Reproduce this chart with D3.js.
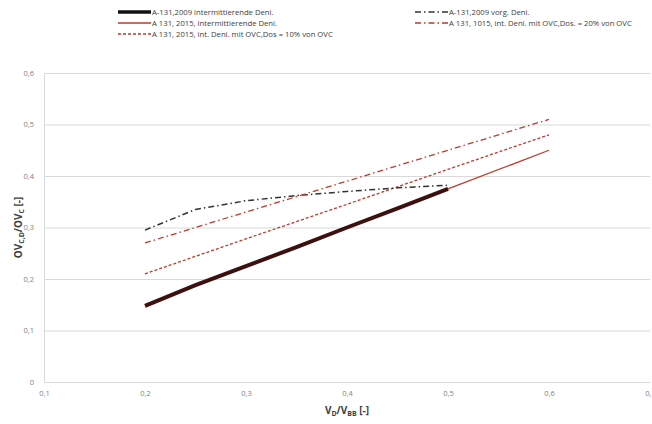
<!DOCTYPE html>
<html>
<head>
<meta charset="utf-8">
<script src="https://cdn.jsdelivr.net/npm/d3@7"></script>
<style>
  body { margin: 0; background: #fff; }
  text { font-family: "Open Sans", sans-serif; }
</style>
</head>
<body>
<svg id="chart" width="652" height="424"></svg>
<script>
// Daten
const xTicks = [0.1, 0.2, 0.3, 0.4, 0.5, 0.6, 0.7]
const yTicks = [0, 0.1, 0.2, 0.3, 0.4, 0.5, 0.6]

const xs2009 = [0.2, 0.25, 0.3, 0.35, 0.4, 0.45, 0.5]
const int2009 = [0.148, 0.188, 0.225, 0.262, 0.300, 0.337, 0.375]
const vorg2009 = [0.295, 0.335, 0.352, 0.362, 0.370, 0.377, 0.382]

const xs2015 = [0.2, 0.3, 0.4, 0.5, 0.6]
const int2015 = [0.15, 0.225, 0.30, 0.375, 0.45]
const ovc10 = [0.21, 0.278, 0.345, 0.413, 0.48]
const ovc20 = [0.27, 0.33, 0.39, 0.45, 0.51]

const svg = d3.select("#chart")

const margin = { top: 73, right: 2, bottom: 42, left: 44 }
const width = 652 - margin.left - margin.right
const height = 424 - margin.top - margin.bottom

const x = d3.scaleLinear().domain([0.1, 0.7]).range([margin.left, margin.left + width])
const y = d3.scaleLinear().domain([0, 0.6]).range([margin.top + height, margin.top])

const fmt = d => d3.format(".1f")(d).replace(".", ",")

// Gitter
svg.append("g")
    .attr("transform", `translate(${margin.left},0)`)
    .call(d3.axisLeft(y).tickValues(yTicks).tickSize(-width).tickFormat(d => d === 0 ? "0" : fmt(d)))
    .call(g => g.select(".domain").attr("stroke", "#d9d9d9"))
    .call(g => g.selectAll(".tick line").attr("stroke", "#d9d9d9"))
    .call(g => g.selectAll(".tick text").attr("fill", "#7f7f7f").attr("font-size", 7.5).attr("x", -10))

svg.append("g")
    .attr("transform", `translate(0,${margin.top + height})`)
    .call(d3.axisBottom(x).tickValues(xTicks).tickSize(0).tickFormat(fmt))
    .call(g => g.select(".domain").remove())
    .call(g => g.selectAll(".tick text").attr("fill", "#7f7f7f").attr("font-size", 7.5).attr("dy", "1.4em"))

// Linien
const series = [
    { name: "A-131,2009 intermittierende Deni.", xs: xs2009, ys: int2009, color: "#3d1010", w: 4, dash: null, z: 1 },
    { name: "A 131, 2015, intermittierende Deni.", xs: xs2015, ys: int2015, color: "#c0392b", w: 1.3, dash: null, z: 0 },
    { name: "A 131, 2015, int. Deni. mit OVC,Dos = 10% von OVC", xs: xs2015, ys: ovc10, color: "#c0392b", w: 1.3, dash: "3,2", z: 2 },
    { name: "A-131,2009 vorg. Deni.", xs: xs2009, ys: vorg2009, color: "#333333", w: 1.5, dash: "6,3,1.5,3", z: 3 },
    { name: "A 131, 1015, int. Deni. mit OVC,Dos. = 20% von OVC", xs: xs2015, ys: ovc20, color: "#c0392b", w: 1.3, dash: "6,3,1.5,3", z: 4 }
]

const line = d3.line().x(d => x(d[0])).y(d => y(d[1]))

svg.append("g").selectAll("path")
    .data(series.slice().sort((a, b) => a.z - b.z))
    .enter()
    .append("path")
    .attr("d", s => line(s.xs.map((v, i) => [v, s.ys[i]])))
    .attr("fill", "none")
    .attr("stroke", s => s.color)
    .attr("stroke-width", s => s.w)
    .attr("stroke-dasharray", s => s.dash)

// Legende
const legendPos = [[118, 12], [118, 23], [118, 34], [415, 12], [415, 23]]
const legend = svg.append("g")
series.forEach((s, i) => {
    const [lx, ly] = legendPos[i]
    legend.append("line")
        .attr("x1", lx).attr("x2", lx + 33).attr("y1", ly).attr("y2", ly)
        .attr("stroke", s.w === 4 ? "#111" : s.color)
        .attr("stroke-width", s.w === 4 ? 3.5 : s.w)
        .attr("stroke-dasharray", s.dash)
    legend.append("text")
        .attr("x", lx + 34).attr("y", ly + 2.5)
        .attr("font-size", 7.7)
        .attr("fill", "#404040")
        .text(s.name)
})

// Achsentitel
const xt = svg.append("text")
    .attr("x", x(0.4)).attr("y", 414)
    .attr("text-anchor", "middle")
    .attr("font-size", 10).attr("font-weight", "bold").attr("fill", "#404040")
xt.append("tspan").text("V")
xt.append("tspan").attr("font-size", 7).attr("dy", 2).text("D")
xt.append("tspan").attr("dy", -2).text("/V")
xt.append("tspan").attr("font-size", 7).attr("dy", 2).text("BB")
xt.append("tspan").attr("dy", -2).text(" [-]")

const yt = svg.append("text")
    .attr("transform", `translate(22,${y(0.3)}) rotate(-90)`)
    .attr("text-anchor", "middle")
    .attr("font-size", 10).attr("font-weight", "bold").attr("fill", "#404040")
yt.append("tspan").text("OV")
yt.append("tspan").attr("font-size", 7).attr("dy", 2).text("C,D")
yt.append("tspan").attr("dy", -2).text("/OV")
yt.append("tspan").attr("font-size", 7).attr("dy", 2).text("C")
yt.append("tspan").attr("dy", -2).text(" [-]")
</script>
</body>
</html>
